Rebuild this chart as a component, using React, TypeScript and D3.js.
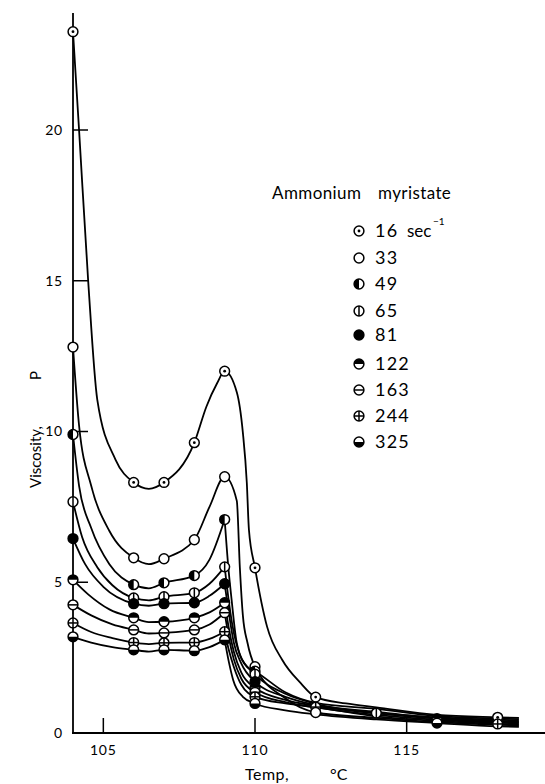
import React from 'react';
import * as d3 from 'd3';

// shear rates (sec^-1) and marker columns
const shearRates = [16, 33, 49, 65, 81, 122, 163, 244, 325];
const markerTemps = [104, 106, 107, 108, 109, 110];

// viscosity (P) at the marker columns, one list per shear rate
const visc16 = [23.26, 8.31, 8.31, 9.63, 12.0, 5.48];
const visc33 = [12.8, 5.81, 5.78, 6.41, 8.5, 2.2];
const visc49 = [9.9, 4.92, 4.98, 5.22, 7.08, 2.05];
const visc65 = [7.67, 4.48, 4.52, 4.65, 5.51, 1.95];
const visc81 = [6.45, 4.29, 4.29, 4.32, 4.95, 1.7];
const visc122 = [5.08, 3.82, 3.69, 3.82, 4.32, 1.5];
const visc163 = [4.25, 3.42, 3.32, 3.42, 3.99, 1.35];
const visc244 = [3.65, 3.0, 2.99, 3.0, 3.36, 1.2];
const visc325 = [3.19, 2.76, 2.76, 2.73, 3.09, 0.98];

// markers drawn beyond 110 C: [rate, temp, visc]
const extraMarkers: [number, number, number][] = [
  [16, 112, 1.19], [244, 112, 0.86], [33, 112, 0.68],
  [65, 114, 0.66], [122, 116, 0.48], [325, 116, 0.33],
  [16, 118, 0.52], [244, 118, 0.3],
];

// extra points (temp, visc)
const trace16 = [[104.2, 20], [104.5, 15], [104.8, 11.06], [105.4, 9.07], [106.5, 8.1], [108.4, 10.83], [108.75, 11.6], [109.4, 11.3], [109.6, 9.96], [109.73, 8.3], [109.8, 6.74], [110.4, 3.52], [110.9, 2.42], [111.5, 1.66], [112, 1.19], [113, 0.98], [114, 0.85], [116, 0.6], [118, 0.52], [118.7, 0.5]];
const trace33 = [[104.2, 10.2], [104.6, 8.2], [105.2, 6.7], [106.5, 5.6], [108.5, 7.5], [109.4, 7.7], [109.5, 5.5], [109.6, 3.9], [109.75, 3.0], [111, 1.15], [112, 0.68], [114, 0.5], [116, 0.36], [118, 0.27], [118.7, 0.25]];
const trace49 = [[104.2, 8.2], [104.6, 6.8], [105.2, 5.6], [106.5, 4.8], [108.5, 5.75], [109.12, 5.5], [109.23, 4.41], [109.4, 2.98], [109.73, 2.2], [111, 1.35], [112, 1.0], [114, 0.8], [116, 0.56], [118, 0.48], [118.7, 0.46]];
const trace65 = [[104.3, 6.5], [104.8, 5.5], [105.3, 4.9], [106.5, 4.4], [108.5, 4.95], [109.12, 4.5], [109.25, 3.6], [109.5, 2.6], [111, 1.3], [112, 0.97], [114, 0.66], [116, 0.52], [118, 0.44], [118.7, 0.42]];
const trace81 = [[104.4, 5.6], [105, 4.85], [106.5, 4.22], [108.5, 4.55], [109.15, 3.9], [109.3, 3.0], [109.55, 2.3], [111, 1.2], [112, 0.93], [114, 0.7], [116, 0.5], [118, 0.4], [118.7, 0.38]];
const trace122 = [[104.5, 4.6], [105.2, 4.1], [106.5, 3.68], [108.5, 4.0], [109.15, 3.4], [109.3, 2.7], [109.55, 2.0], [111, 1.1], [112, 0.9], [114, 0.65], [116, 0.48], [118, 0.37], [118.7, 0.35]];
const trace163 = [[104.6, 3.9], [105.3, 3.6], [106.5, 3.3], [108.5, 3.6], [109.15, 3.1], [109.3, 2.45], [109.55, 1.8], [111, 1.02], [112, 0.85], [114, 0.6], [116, 0.44], [118, 0.34], [118.7, 0.32]];
const trace244 = [[104.6, 3.35], [105.3, 3.15], [106.5, 2.95], [108.5, 3.12], [109.15, 2.7], [109.3, 2.2], [109.55, 1.6], [111, 0.98], [112, 0.86], [114, 0.55], [116, 0.4], [118, 0.3], [118.7, 0.28]];
const trace325 = [[104.6, 3.0], [105.3, 2.85], [106.5, 2.7], [108.5, 2.85], [109.15, 2.3], [109.28, 1.76], [109.6, 1.2], [111, 0.75], [112, 0.62], [114, 0.45], [116, 0.33], [118, 0.22], [118.7, 0.2]];

const xTicks = [105, 110, 115];
const yTicks = [0, 5, 10, 15, 20];

const seriesVisc = [visc16, visc33, visc49, visc65, visc81, visc122, visc163, visc244, visc325];
const seriesTrace = [trace16, trace33, trace49, trace65, trace81, trace122, trace163, trace244, trace325];
// symbol kind per shear rate
const kinds = ['dot', 'open', 'left', 'vbar', 'full', 'top', 'hbar', 'cross', 'bottom'];
// curves with a sharp corner at the 109 C peak
const sharpPeak = [false, false, true, true, true, true, true, true, true];

const W = 545, H = 784;
const x = d3.scaleLinear().domain([104, 110]).range([73, 255]);
const y = d3.scaleLinear().domain([0, 20]).range([733, 130]);
const FONT = 'Lato, "DejaVu Sans", sans-serif';

function Marker({ kind, cx, cy, r = 4.9 }: { kind: string; cx: number; cy: number; r?: number }) {
  const sw = 1.5;
  let fill: React.ReactNode = null;
  if (kind === 'left') fill = <path d={`M${cx},${cy - r}A${r},${r} 0 0 0 ${cx},${cy + r}Z`} fill="#000" />;
  if (kind === 'top') fill = <path d={`M${cx - r},${cy}A${r},${r} 0 0 1 ${cx + r},${cy}Z`} fill="#000" />;
  if (kind === 'bottom') fill = <path d={`M${cx - r},${cy}A${r},${r} 0 0 0 ${cx + r},${cy}Z`} fill="#000" />;
  return (
    <g>
      <circle cx={cx} cy={cy} r={r} fill={kind === 'full' ? '#000' : '#fff'} stroke="#000" strokeWidth={sw} />
      {fill}
      {kind === 'dot' && <circle cx={cx} cy={cy} r={1.4} fill="#000" />}
      {(kind === 'vbar' || kind === 'cross') && <line x1={cx} x2={cx} y1={cy - r} y2={cy + r} stroke="#000" strokeWidth={sw} />}
      {(kind === 'hbar' || kind === 'cross') && <line x1={cx - r} x2={cx + r} y1={cy} y2={cy} stroke="#000" strokeWidth={sw} />}
    </g>
  );
}

export default function App() {
  const line = d3.line<number[]>()
    .x(d => x(d[0]))
    .y(d => y(d[1]))
    .curve(d3.curveMonotoneX);

  const paths: string[] = [];
  seriesVisc.forEach((vals, i) => {
    const pts = markerTemps.map((t, j) => [t, vals[j]]).concat(seriesTrace[i] as number[][]);
    pts.sort((a, b) => a[0] - b[0]);
    if (sharpPeak[i]) {
      paths.push(line(pts.filter(p => p[0] <= 109)) || '');
      paths.push(line(pts.filter(p => p[0] >= 109)) || '');
    } else {
      paths.push(line(pts) || '');
    }
  });

  const legendY = [231, 258, 284, 311, 335, 364, 390, 416, 442];

  return (
    <svg width={W} height={H} style={{ position: 'absolute', left: 0, top: 0, background: '#fff' }} fontFamily={FONT}>
      {/* axes */}
      <line x1={x(104)} x2={x(104)} y1={13} y2={y(0)} stroke="#000" strokeWidth={1.8} />
      <line x1={x(104) - 1} x2={W} y1={y(0)} y2={y(0)} stroke="#000" strokeWidth={1.8} />
      {yTicks.filter(v => v > 0).map(v => (
        <line key={v} x1={x(104)} x2={x(104) + 15} y1={y(v)} y2={y(v)} stroke="#000" strokeWidth={1.5} />
      ))}
      {xTicks.map(v => (
        <line key={v} x1={x(v)} x2={x(v)} y1={y(0)} y2={y(0) - 15} stroke="#000" strokeWidth={1.5} />
      ))}
      {yTicks.map(v => (
        <text key={v} x={63} y={y(v)} dy="0.35em" textAnchor="end" fontSize={14} letterSpacing={0.8}>{v}</text>
      ))}
      {xTicks.map(v => (
        <text key={v} x={x(v)} y={755} textAnchor="middle" fontSize={14} letterSpacing={0.8}>{v}</text>
      ))}
      <text transform="translate(41,488) rotate(-90)" fontSize={15}>Viscosity,</text>
      <text transform="translate(41,380) rotate(-90)" fontSize={15}>P</text>
      <text x={245} y={780} fontSize={16} letterSpacing={0.5}>Temp,</text>
      <text x={330} y={780} fontSize={16}>°C</text>

      {/* curves */}
      {paths.map((d, i) => (
        <path key={i} d={d} fill="none" stroke="#000" strokeWidth={1.8} />
      ))}

      {/* markers */}
      {seriesVisc.map((vals, i) => markerTemps.map((t, j) => (
        <Marker key={`${i}-${j}`} kind={kinds[i]} cx={x(t)} cy={y(vals[j])} />
      )))}
      {extraMarkers.map(([rate, t, v], k) => (
        <Marker key={`e${k}`} kind={kinds[shearRates.indexOf(rate)]} cx={x(t)} cy={y(v)} />
      ))}

      {/* legend */}
      <text x={272} y={199} fontSize={17} letterSpacing={0.4}>Ammonium</text>
      <text x={378} y={199} fontSize={17} letterSpacing={0.4}>myristate</text>
      {shearRates.map((r, i) => (
        <g key={r}>
          <Marker kind={kinds[i]} cx={359} cy={legendY[i]} />
          <text x={375} y={legendY[i]} dy="0.36em" fontSize={18} letterSpacing={1.2}>{r}</text>
          {i === 0 && <text x={407} y={legendY[i]} dy="0.36em" fontSize={17}>sec</text>}
          {i === 0 && <text x={433} y={legendY[i] - 6} fontSize={10}>−1</text>}
        </g>
      ))}
    </svg>
  );
}
